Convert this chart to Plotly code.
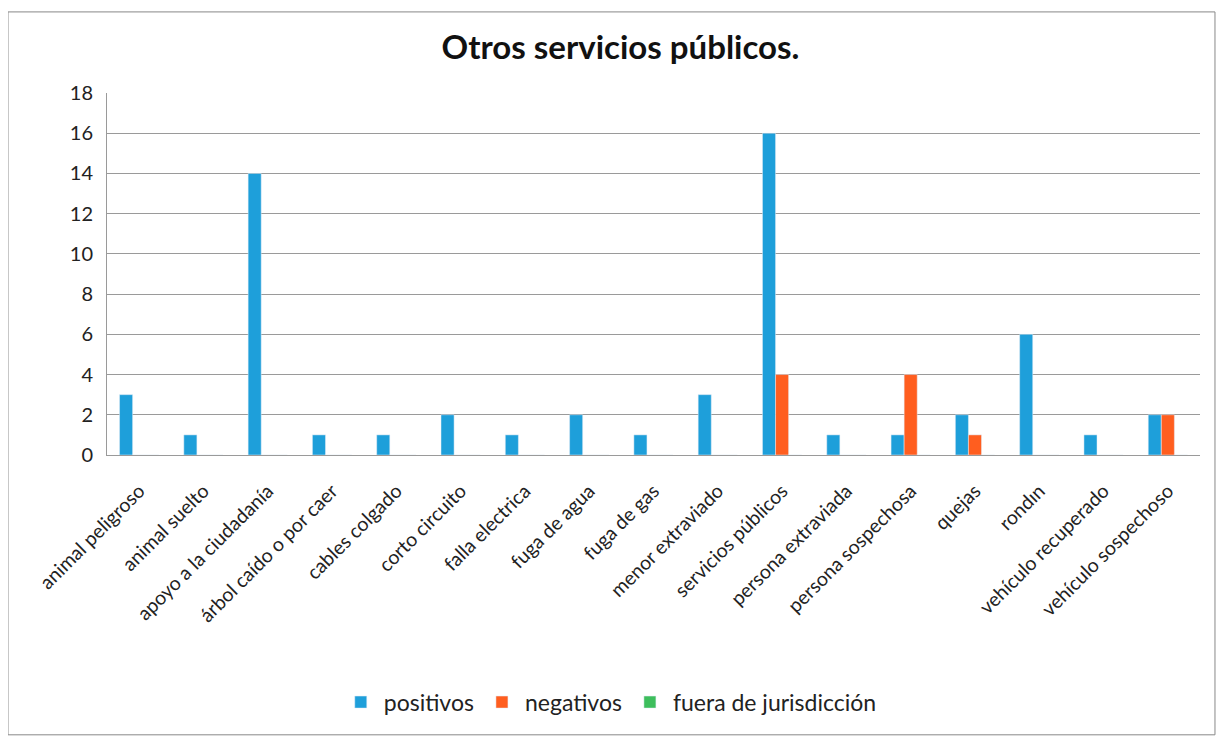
import plotly.graph_objects as go

categorias = ["animal peligroso", "animal suelto", "apoyo a la ciudadanía", "árbol caído o por caer",
              "cables colgado", "corto circuito", "falla electrica", "fuga de agua", "fuga de gas",
              "menor extraviado", "servicios públicos", "persona extraviada", "persona sospechosa",
              "quejas", "rondın", "vehículo recuperado", "vehículo sospechoso"]
positivos = [3, 1, 14, 1, 1, 2, 1, 2, 1, 3, 16, 1, 1, 2, 6, 1, 2]
negativos = [0, 0, 0, 0, 0, 0, 0, 0, 0, 0, 4, 0, 4, 1, 0, 0, 2]
fuera_de_jurisdiccion = [0] * 17
y_ticks = [0, 2, 4, 6, 8, 10, 12, 14, 16, 18]

font_fam = "Lato, Open Sans, sans-serif"

fig = go.Figure()
fig.add_bar(x=categorias, y=positivos, name="positivos", marker_color="#1E9FDA")
fig.add_bar(x=categorias, y=negativos, name="negativos", marker_color="#FF5E1F")
fig.add_bar(x=categorias, y=fuera_de_jurisdiccion, name="fuera de jurisdicción", marker_color="#3DBE5C")

fig.update_layout(
    width=1225, height=740,
    paper_bgcolor="white", plot_bgcolor="white",
    barmode="group", bargap=0.39, bargroupgap=0,
    margin=dict(l=99, r=33, t=85, b=293, autoexpand=False),
    title=dict(text="<b>Otros servicios públicos.</b>", x=0.5, xanchor="center",
               yref="container", y=0.947, yanchor="middle",
               font=dict(family=font_fam, size=33, color="#111111")),
    font=dict(family=font_fam, color="#222222"),
    legend=dict(orientation="h", x=0.46, xanchor="center", yref="container", y=0.062, yanchor="middle",
                font=dict(size=23, color="#222222"), traceorder="normal", itemwidth=36),
    showlegend=True,
)
fig.update_yaxes(range=[0, 18], tickvals=y_ticks, showgrid=True, gridcolor="#9a9a9a", gridwidth=1,
                 showline=True, linecolor="#9a9a9a", ticks="", tickfont=dict(size=20, color="#222222"),
                 zeroline=False, ticklabelstandoff=9, automargin=False)
fig.update_xaxes(tickangle=-45, tickfont=dict(size=19.5, color="#222222"), showline=True,
                 linecolor="#9a9a9a", ticks="", automargin=False, ticklabelstandoff=16)
fig.add_shape(type="rect", xref="paper", yref="paper", x0=-0.0906, x1=1.0137, y0=-0.773, y1=1.224,
              line=dict(color="#888888", width=1))
fig.write_html("out.html")
